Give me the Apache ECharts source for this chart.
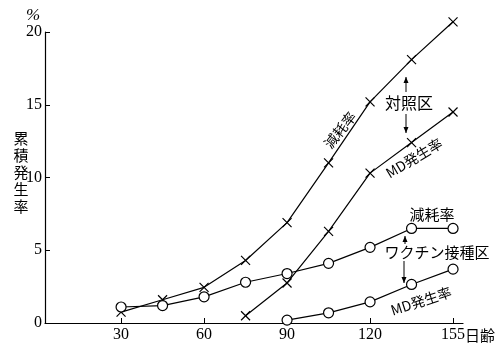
<!DOCTYPE html>
<html><head><meta charset="utf-8">
<script src="https://cdn.jsdelivr.net/npm/echarts@6.0.0/dist/echarts.min.js"></script>
<style>html,body{margin:0;padding:0;background:#fff}#c{width:496px;height:345px}</style>
</head><body><div id="c"></div>
<script>
const days = [30, 45, 60, 75, 90, 105, 120, 135, 150];
const ctrlMort = [0.75, 1.6, 2.45, 4.3, 6.9, 11.0, 15.2, 18.1, 20.7];
const ctrlMD = [null, null, null, 0.5, 2.75, 6.3, 10.3, 12.4, 14.5];
const vacMort = [1.1, 1.2, 1.8, 2.8, 3.4, 4.1, 5.2, 6.5, 6.5];
const vacMD = [null, null, null, null, 0.2, 0.7, 1.45, 2.65, 3.7];
const xTickValues = [30, 60, 90, 120, 150];
const xTickLabels = ['30', '60', '90', '120', '155'];
const yTicks = [0, 5, 10, 15, 20];

const pairs = arr => days.map((d, i) => [d, arr[i]]).filter(p => p[1] !== null);
const cross = 'path://M0,0L10,10M10,0L0,10';
const serif = '"Liberation Serif","DejaVu Serif",serif';
const jp = '"Noto Sans CJK JP",sans-serif';

function lineSeries(name, arr, isCross) {
  return {
    name, type: 'line', data: pairs(arr), clip: false,
    symbol: isCross ? cross : 'circle',
    symbolSize: isCross ? 9 : 10,
    lineStyle: { color: '#000', width: 1.2 },
    itemStyle: isCross
      ? { color: '#000', borderColor: '#000', borderWidth: 1.2 }
      : { color: '#fff', borderColor: '#000', borderWidth: 1.2 },
    z: isCross ? 3 : 4,
    animation: false
  };
}

function arrow(x, y1, y2) {
  const dir = y2 < y1 ? -1 : 1;
  return [
    { type: 'line', shape: { x1: x, y1: y1, x2: x, y2: y2 }, style: { stroke: '#000', lineWidth: 1 } },
    { type: 'polygon', shape: { points: [[x, y2], [x - 2.5, y2 - dir * 6], [x + 2.5, y2 - dir * 6]] }, style: { fill: '#000' } }
  ];
}

function txt(x, y, text, size, rotDeg) {
  return {
    type: 'text', x, y, rotation: (rotDeg || 0) * Math.PI / 180,
    style: { text, font: size + 'px ' + jp, fill: '#000', align: 'center', verticalAlign: 'middle' }
  };
}

const chart = echarts.init(document.getElementById('c'), null, { renderer: 'canvas' });
chart.setOption({
  backgroundColor: '#fff',
  animation: false,
  grid: { left: 45, right: 33, top: 32, bottom: 22, containLabel: false },
  xAxis: {
    type: 'value', min: 2.5, max: 153.6,
    axisLine: { lineStyle: { color: '#000', width: 1.2 } },
    axisTick: { inside: true, length: 5, customValues: xTickValues, lineStyle: { color: '#000' } },
    axisLabel: {
      customValues: xTickValues,
      formatter: v => xTickLabels[xTickValues.indexOf(v)],
      color: '#000', fontFamily: serif, fontSize: 16, margin: 4
    },
    splitLine: { show: false }
  },
  yAxis: {
    type: 'value', min: 0, max: 20, interval: 5,
    axisLine: { show: true, lineStyle: { color: '#000', width: 1.2 } },
    axisTick: { show: true, inside: true, length: 5, lineStyle: { color: '#000' } },
    axisLabel: { color: '#000', fontFamily: serif, fontSize: 16, margin: 3,
      formatter: v => yTicks.indexOf(v) >= 0 ? String(v) : '' },
    splitLine: { show: false }
  },
  series: [
    lineSeries('対照区 減耗率', ctrlMort, true),
    lineSeries('対照区 MD発生率', ctrlMD, true),
    lineSeries('ワクチン接種区 減耗率', vacMort, false),
    lineSeries('ワクチン接種区 MD発生率', vacMD, false)
  ],
  graphic: [
    { type: 'text', x: 33, y: 16, style: { text: '%', font: 'italic 17px ' + serif, fill: '#000', align: 'center', verticalAlign: 'middle' } },
    { type: 'text', x: 21, y: 172, style: { text: '累\n積\n発\n生\n率', font: '15px ' + jp, lineHeight: 17, fill: '#000', align: 'center', verticalAlign: 'middle' } },
    txt(480, 335, '日齢', 15),
    txt(340, 130, '減耗率', 14, 52),
    txt(409, 103, '対照区', 16),
    ...arrow(406, 92, 77),
    ...arrow(406, 114, 133),
    txt(414, 158, 'MD発生率', 14, 31),
    txt(432, 214, '減耗率', 15),
    txt(437, 252, 'ワクチン接種区', 15),
    ...arrow(405, 244, 236),
    ...arrow(404, 261, 283),
    txt(421, 301, 'MD発生率', 14, 18)
  ]
});
</script></body></html>
